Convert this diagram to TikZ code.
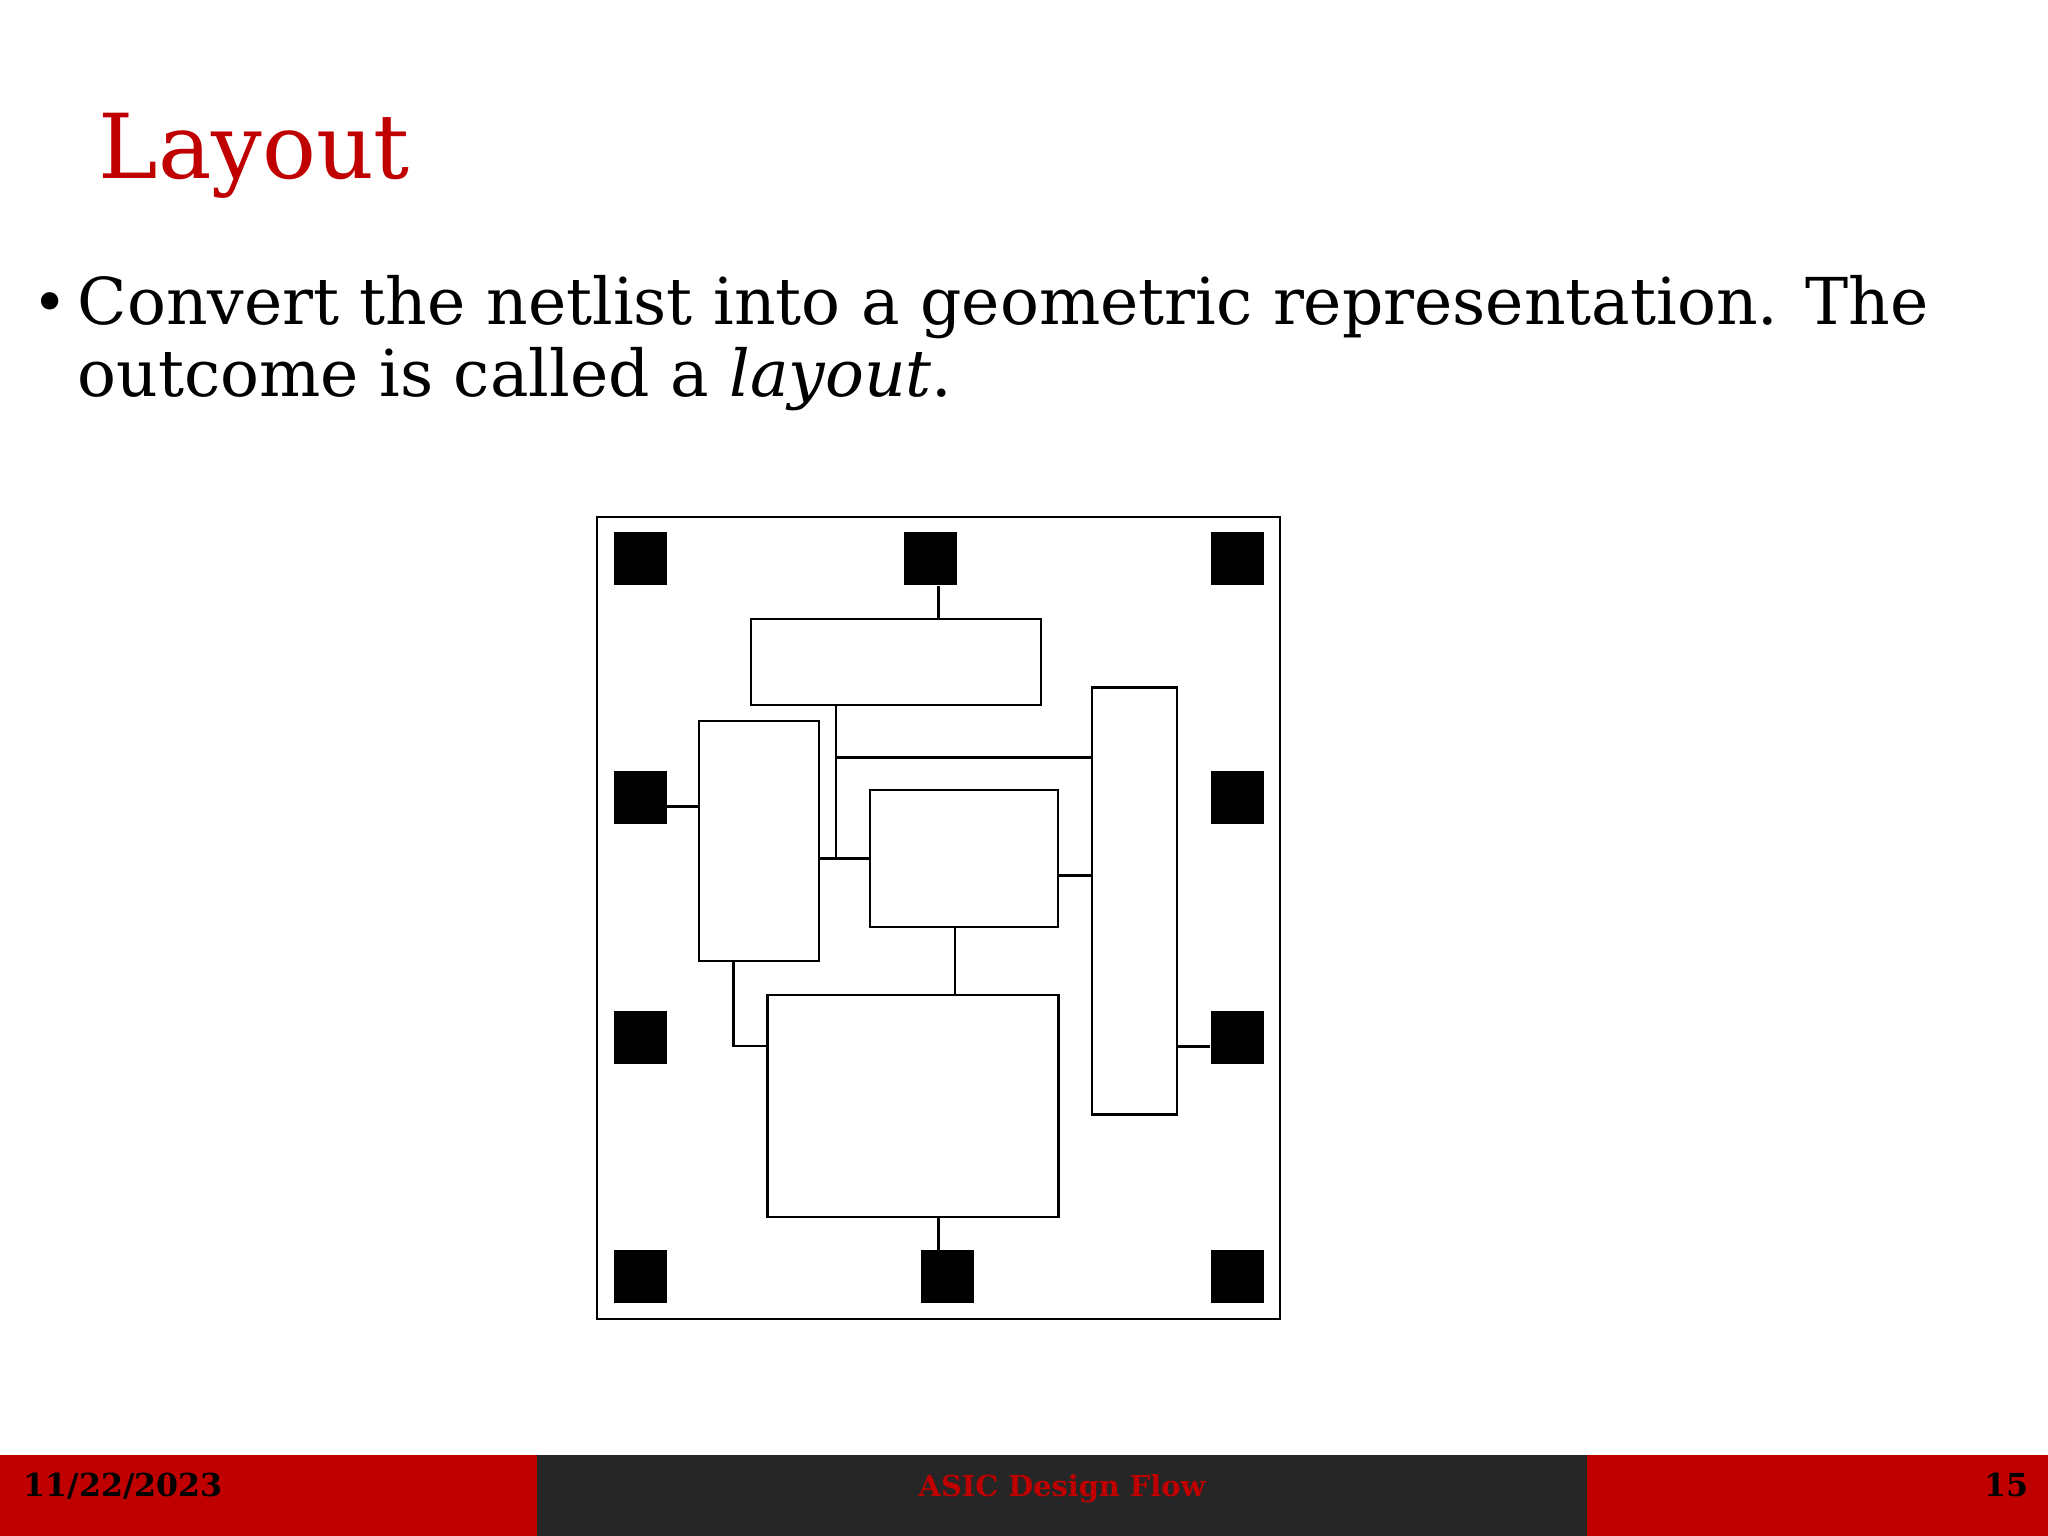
\documentclass[tikz,border=0pt]{standalone}
\usepackage{tikz}
\usepackage{fontspec}
\setmainfont{DejaVu Serif}
\definecolor{slidered}{HTML}{C00000}
\definecolor{slidegray}{HTML}{262626}

\begin{document}
\begin{tikzpicture}[
	iopad/.style={fill=black,minimum width=0.53cm,minimum height=0.53cm,inner sep=0pt},
	cell/.style={draw,line width=0.6pt,inner sep=0pt},
	wire/.style={line width=0.6pt}]
			\useasboundingbox (0,0) rectangle (20.48,15.36);
			\fill[white] (0,0) rectangle (20.48,15.36);
			\node[anchor=base west,inner sep=0pt,text=slidered,font=\fontsize{25.5}{30}\selectfont] (title) at (0.98,13.57) {Layout};
			\node[inner sep=0pt,font=\fontsize{17}{20}\selectfont] (dot) at (0.50,12.28) {\textbullet};
			\node[anchor=base west,inner sep=0pt,font=\fontsize{18.4}{20.5}\selectfont] (line1) at (0.77,12.11) {Convert the netlist into a geometric representation. The};
			\node[anchor=base west,inner sep=0pt,font=\fontsize{18.4}{20.5}\selectfont] (line2) at (0.77,11.39) {outcome is called a \textit{layout}.};
			% chip
			\node[cell,minimum width=6.83cm,minimum height=8.02cm] (chip) at (9.385,6.18) {};
			\foreach \r/\y in {1/9.77,2/7.38,3/4.98,4/2.59} {
				\node[iopad] (padL\r) at (6.40,\y) {};
				\node[iopad] (padR\r) at (12.37,\y) {};
			}
			\node[iopad] (padT) at (9.30,9.77) {};
			\node[iopad] (padB) at (9.47,2.59) {};
			\node[cell,minimum width=2.90cm,minimum height=0.86cm] (blkA) at (8.96,8.74) {};
			\node[cell,minimum width=1.20cm,minimum height=2.40cm] (blkB) at (7.59,6.95) {};
			\node[cell,minimum width=1.88cm,minimum height=1.37cm] (blkC) at (9.64,6.775) {};
			\node[cell,minimum width=0.85cm,minimum height=4.27cm] (blkD) at (11.345,6.35) {};
			\node[cell,minimum width=2.91cm,minimum height=2.22cm] (blkE) at (9.13,4.30) {};
			% wires
			\coordinate (tapT) at ([xshift=0.85mm]padT.south);
			\coordinate (tapL) at ([yshift=-0.85mm]padL2.east);
			\coordinate (tapA) at ([xshift=-6mm]blkA.south);
			\coordinate (busA) at ([yshift=-5.15mm]blkA.south);
			\coordinate (tapC) at ([yshift=-1.7mm]blkC.east);
			\coordinate (tapCE) at ([xshift=-0.87mm]blkC.south);
			\coordinate (tapB) at ([xshift=-2.55mm]blkB.south);
			\coordinate (tapE) at ([yshift=6mm]blkE.west);
			\coordinate (tapR) at ([yshift=-0.85mm]padR3.west);
			\coordinate (tapBt) at ([xshift=-0.85mm]padB.north);
			\draw[wire] (tapT) -- (tapT |- blkA.north);
			\draw[wire] (tapL) -- (tapL -| blkB.west);
			\draw[wire] (tapA) -- (tapA |- blkC.west);
			\draw[wire] (tapA |- busA) -- (busA -| blkD.west);
			\draw[wire] (blkB.east |- blkC.west) -- (blkC.west);
			\draw[wire] (tapC) -- (tapC -| blkD.west);
			\draw[wire] (tapCE) -- (tapCE |- blkE.north);
			\draw[wire] (tapB) |- (tapE);
			\draw[wire] (tapR) -- (tapR -| blkD.east);
			\draw[wire] (tapBt) -- (tapBt |- blkE.south);
			% footer
			\fill[slidered] (0,0) rectangle (5.37,0.81);
			\fill[slidegray] (5.37,0) rectangle (15.87,0.81);
			\fill[slidered] (15.87,0) rectangle (20.48,0.81);
			\node[anchor=base west,inner sep=0pt,font=\bfseries\fontsize{9}{10}\selectfont] (date) at (0.23,0.39) {11/22/2023};
			\node[anchor=base,inner sep=0pt,text=slidered,font=\bfseries\fontsize{8.2}{10}\selectfont] (talk) at (10.62,0.39) {ASIC Design Flow};
			\node[anchor=base east,inner sep=0pt,font=\bfseries\fontsize{9}{10}\selectfont] (page) at (20.29,0.39) {15};
		\end{tikzpicture}
\end{document}
